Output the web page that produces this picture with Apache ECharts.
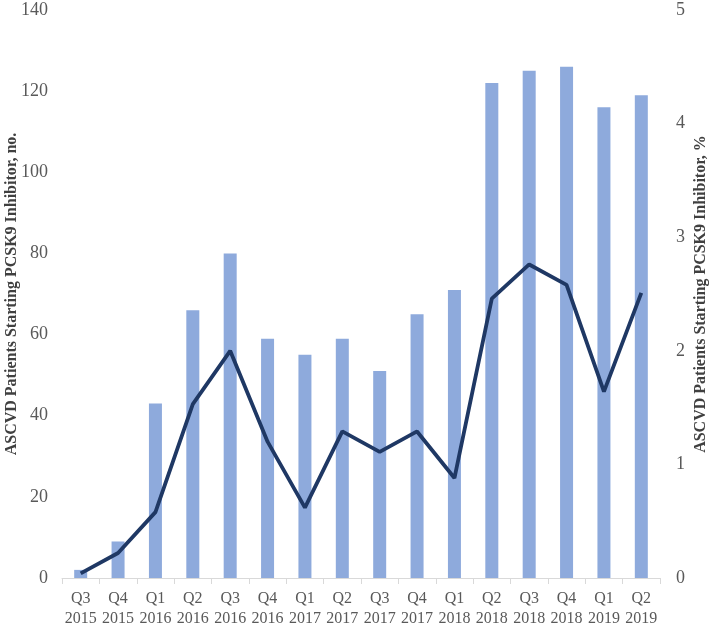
<!DOCTYPE html>
<html>
<head>
<meta charset="utf-8">
<script src="https://cdn.jsdelivr.net/npm/echarts@6/dist/echarts.min.js"></script>
<style>
html, body { margin: 0; padding: 0; background: #fff; }
#chart { width: 709px; height: 626px; }
</style>
</head>
<body>
<div id="chart"></div>
<script>
var quarters = ['Q3\n2015', 'Q4\n2015', 'Q1\n2016', 'Q2\n2016', 'Q3\n2016', 'Q4\n2016', 'Q1\n2017', 'Q2\n2017',
    'Q3\n2017', 'Q4\n2017', 'Q1\n2018', 'Q2\n2018', 'Q3\n2018', 'Q4\n2018', 'Q1\n2019', 'Q2\n2019'];
var patientCounts = [2, 9, 43, 66, 80, 59, 55, 59, 51, 65, 71, 122, 125, 126, 116, 119];
var patientPercents = [0.04, 0.22, 0.58, 1.53, 2.0, 1.2, 0.62, 1.29, 1.11, 1.29, 0.88, 2.46, 2.76, 2.58, 1.64, 2.51];

var chart = echarts.init(document.getElementById('chart'));
var serif = 'Liberation Serif';

var option = {
    animation: false,
    textStyle: { fontFamily: serif },
    // fixed plot box, don't let ECharts shrink it to fit the axis names
    grid: { left: 62, right: 49, top: 10, bottom: 48, containLabel: false, outerBoundsMode: 'none' },
    xAxis: {
        type: 'category',
        data: quarters,
        axisLine: { lineStyle: { color: '#d9d9d9', width: 1 } },
        axisTick: { show: true, alignWithLabel: false, length: 6, lineStyle: { color: '#d9d9d9' } },
        axisLabel: { color: '#595959', fontSize: 16, fontFamily: serif, lineHeight: 20, margin: 11, interval: 0 }
    },
    yAxis: [
        {
            type: 'value',
            min: 0, max: 140, interval: 20,
            name: 'ASCVD Patients Starting PCSK9 Inhibitor, no.',
            nameLocation: 'middle',
            nameGap: 42,
            nameMoveOverlap: false,
            nameTextStyle: { color: '#404040', fontSize: 16, fontWeight: 'bold', fontFamily: serif },
            axisLine: { show: false },
            axisTick: { show: false },
            splitLine: { show: false },
            axisLabel: { color: '#595959', fontSize: 18, fontFamily: serif, margin: 14 }
        },
        {
            type: 'value',
            min: 0, max: 5, interval: 1,
            name: 'ASCVD Patients Starting PCSK9 Inhibitor, %',
            nameLocation: 'middle',
            nameGap: 33,
            nameRotate: 90,
            nameMoveOverlap: false,
            nameTextStyle: { color: '#404040', fontSize: 16, fontWeight: 'bold', fontFamily: serif },
            axisLine: { show: false },
            axisTick: { show: false },
            splitLine: { show: false },
            axisLabel: { color: '#595959', fontSize: 18, fontFamily: serif, margin: 16 }
        }
    ],
    series: [
        {
            name: 'no.',
            type: 'bar',
            data: patientCounts,
            yAxisIndex: 0,
            barWidth: 13,
            itemStyle: { color: '#8eaadc' }
        },
        {
            name: '%',
            type: 'line',
            data: patientPercents,
            yAxisIndex: 1,
            symbol: 'none',
            lineStyle: { color: '#1f3864', width: 3.8 },
            itemStyle: { color: '#1f3864' }
        }
    ]
};
chart.setOption(option);
</script>
</body>
</html>
